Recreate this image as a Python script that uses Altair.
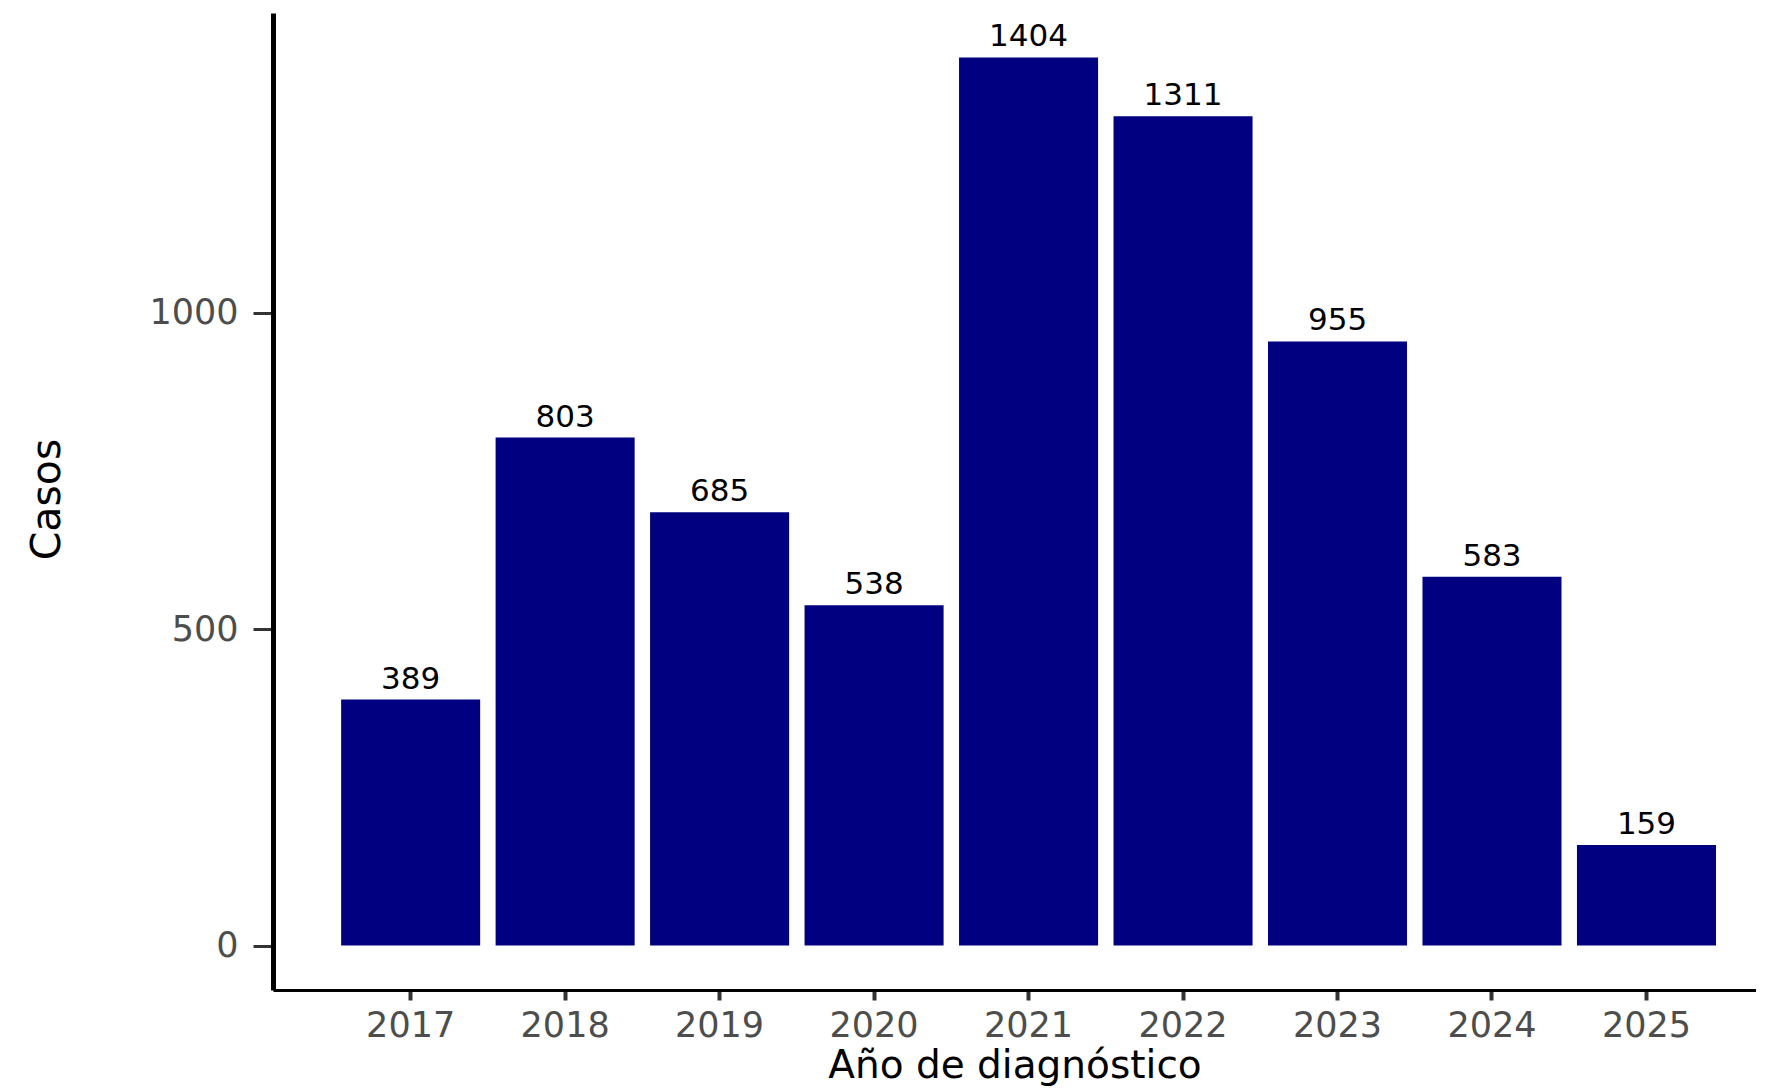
import altair as alt
import pandas as pd

years = ["2017", "2018", "2019", "2020", "2021", "2022", "2023", "2024", "2025"]
cases = [389, 803, 685, 538, 1404, 1311, 955, 583, 159]

df = pd.DataFrame({"anio": years, "casos": cases})

FONT = "DejaVu Sans"

x_enc = alt.X(
    "anio:N",
    sort=years,
    title="Año de diagnóstico",
    scale=alt.Scale(paddingInner=0.1, paddingOuter=0.35, align=0.63),
    axis=alt.Axis(
        labelAngle=0,
        labelFont=FONT,
        labelFontSize=35,
        labelColor="#4D4D4D",
        labelPadding=8,
        tickSize=10,
        tickWidth=4,
        tickColor="#333333",
        domainColor="black",
        domainWidth=3,
        titleFont=FONT,
        titleFontSize=39,
        titleFontWeight="normal",
        titleColor="black",
        titleBaseline="alphabetic",
        titleY=87,
        grid=False,
    ),
)

y_enc = alt.Y(
    "casos:Q",
    title="Casos",
    scale=alt.Scale(domain=[-70.2, 1474.2], nice=False, zero=False),
    axis=alt.Axis(
        values=[0, 500, 1000],
        format="d",
        labelFont=FONT,
        labelFontSize=35,
        labelColor="#4D4D4D",
        labelPadding=15,
        tickSize=20,
        tickWidth=3,
        tickColor="#333333",
        domainColor="black",
        domainWidth=5,
        titleFont=FONT,
        titleFontSize=41,
        titleFontWeight="normal",
        titleColor="black",
        titleAngle=-90,
        titleX=-226,
        titleY=486,
        titleAlign="center",
        titleBaseline="middle",
        grid=False,
    ),
)

bars = alt.Chart(df).mark_bar(color="#000080").encode(
    x=x_enc,
    y=y_enc,
    y2=alt.Y2(datum=0),
)

labels = alt.Chart(df).mark_text(
    font=FONT, fontSize=31, color="black", baseline="alphabetic", dy=-11
).encode(
    x=alt.X("anio:N", sort=years),
    y=alt.Y("casos:Q"),
    text=alt.Text("casos:Q"),
)

chart = (
    alt.layer(bars, labels)
    .properties(
        width=1483,
        height=977,
        background="white",
        padding={"left": 265, "top": 5, "right": 0, "bottom": 100},
        autosize=alt.AutoSizeParams(type="none"),
    )
    .configure_view(strokeWidth=0)
    .configure_axis(grid=False)
)

chart.save("out.html", embed_options={"renderer": "svg", "actions": False})
